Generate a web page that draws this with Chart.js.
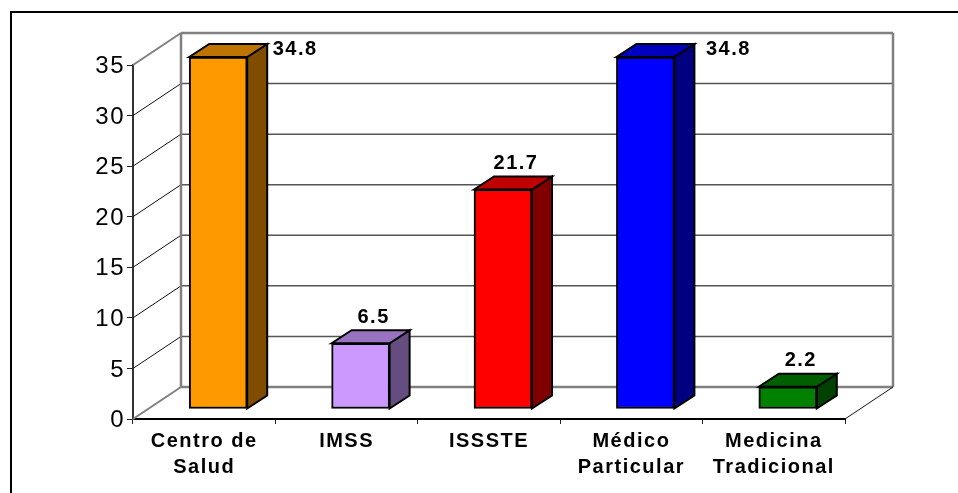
<!DOCTYPE html>
<html>
<head>
<meta charset="utf-8">
<title>Chart</title>
<script src="https://cdn.jsdelivr.net/npm/chart.js@4/dist/chart.umd.min.js"></script>
<style>
html, body { margin: 0; padding: 0; background: #fff; overflow: hidden; }
#frame { position: absolute; left: 10px; top: 11px; width: 1100px; height: 700px; border: 2px solid #000; }
#c { position: absolute; left: 0; top: 0; }
</style>
</head>
<body>
<div id="frame"></div>
<canvas id="c" width="958" height="493"></canvas>
<script>
var categories = [["Centro de", "Salud"], "IMSS", "ISSSTE", ["Médico", "Particular"], ["Medicina", "Tradicional"]];
var values = [34.8, 6.5, 21.7, 34.8, 2.2];
var frontColors = ["#FF9900", "#CC99FF", "#FF0000", "#0000FF", "#008000"];
var topColors = ["#BF7300", "#9973BF", "#BF0000", "#0000BF", "#006000"];
var sideColors = ["#804D00", "#664D80", "#800000", "#000080", "#004000"];
var yTicks = [0, 5, 10, 15, 20, 25, 30, 35];

// depth of the walls and of the bars
var wallDx = 48, wallDy = 32;
var barDx = 14, barDy = 10;
var faceDx = 20, faceDy = 13;

function line(ctx, x1, y1, x2, y2, color, w) {
    ctx.beginPath();
    ctx.moveTo(x1, y1);
    ctx.lineTo(x2, y2);
    ctx.strokeStyle = color;
    ctx.lineWidth = w;
    ctx.stroke();
}

function poly(ctx, pts, fill) {
    ctx.beginPath();
    ctx.moveTo(pts[0][0], pts[0][1]);
    for (var i = 1; i < pts.length; i++) ctx.lineTo(pts[i][0], pts[i][1]);
    ctx.closePath();
    ctx.fillStyle = fill;
    ctx.fill();
    ctx.strokeStyle = "#000";
    ctx.lineWidth = 2;
    ctx.lineJoin = "miter";
    ctx.stroke();
}

var box3d = {
    id: "box3d",
    beforeDraw: function (chart) {
        chart.ctx.letterSpacing = "1.5px";
    },
    beforeDatasetsDraw: function (chart) {
        var ctx = chart.ctx, a = chart.chartArea, y = chart.scales.y;
        var y0 = y.getPixelForValue(0), yTop = y.getPixelForValue(35);
        // gridlines, side wall then back wall
        yTicks.forEach(function (t) {
            if (t === 0 || t === 35) return;
            var py = y.getPixelForValue(t);
            line(ctx, a.left, py, a.left + wallDx, py - wallDy, "#111", 1);
            line(ctx, a.left + wallDx, py - wallDy, a.right + wallDx, py - wallDy, "#555", 1.5);
        });
        line(ctx, a.left, yTop, a.left + wallDx, yTop - wallDy, "#808080", 2);
        line(ctx, a.left, y0, a.left + wallDx, y0 - wallDy, "#808080", 2);
        line(ctx, a.left + wallDx, yTop - wallDy, a.right + wallDx, yTop - wallDy, "#808080", 2.5);
        line(ctx, a.left + wallDx, y0 - wallDy, a.right + wallDx, y0 - wallDy, "#808080", 2.5);
        line(ctx, a.left + wallDx, yTop - wallDy, a.left + wallDx, y0 - wallDy, "#808080", 2.5);
        line(ctx, a.right + wallDx, yTop - wallDy, a.right + wallDx, y0 - wallDy, "#808080", 2.5);
        line(ctx, a.right, y0, a.right + wallDx, y0 - wallDy, "#111", 1);

        // top and side of each bar, the front comes from the dataset
        chart.getDatasetMeta(0).data.forEach(function (bar, i) {
            var r = bar.x + bar.width / 2 + barDx, l = bar.x - bar.width / 2 + barDx;
            var t = bar.y - barDy, b = bar.base - barDy;
            poly(ctx, [[r, t], [r + faceDx, t - faceDy], [r + faceDx, b - faceDy], [r, b]], sideColors[i]);
            poly(ctx, [[l, t], [l + faceDx, t - faceDy], [r + faceDx, t - faceDy], [r, t]], topColors[i]);
        });
        ctx.save();
        ctx.translate(barDx, -barDy);
    },
    afterDatasetsDraw: function (chart) {
        var ctx = chart.ctx;
        ctx.restore();
        ctx.save();
        ctx.font = "bold 20px 'Liberation Sans', Arial, sans-serif";
        ctx.fillStyle = "#000";
        ctx.textAlign = "center";
        ctx.textBaseline = "middle";
        chart.getDatasetMeta(0).data.forEach(function (bar, i) {
            var txt = values[i].toFixed(1);
            if (values[i] > 34) {
                // no room above the tallest bars, goes next to them
                ctx.fillText(txt, bar.x + (i === 3 ? 97 : 91), bar.y - 18);
            } else {
                ctx.fillText(txt, bar.x + barDx + 13, bar.y - barDy - 26);
            }
        });
        ctx.restore();
    }
};

new Chart(document.getElementById("c"), {
    type: "bar",
    data: {
        labels: categories,
        datasets: [{
            data: values,
            backgroundColor: frontColors,
            borderColor: "#000",
            borderWidth: 2,
            borderSkipped: false,
            barThickness: 58,
            clip: false
        }]
    },
    plugins: [box3d],
    options: {
        responsive: false,
        animation: false,
        events: [],
        layout: { padding: { top: 65, right: 113, left: 0, bottom: 0 } },
        plugins: { legend: { display: false }, tooltip: { enabled: false } },
        scales: {
            x: {
                offset: true,
                afterFit: function (s) { s.height = 74; },
                grid: { display: true, drawOnChartArea: false, color: "#222", tickLength: 5, offset: true },
                border: { color: "#000", width: 2 },
                ticks: {
                    color: "#000",
                    maxRotation: 0,
                    autoSkip: false,
                    padding: 4,
                    font: { family: "'Liberation Sans', Arial, sans-serif", size: 20, weight: "bold", lineHeight: 1.33 }
                }
            },
            y: {
                min: 0,
                max: 35,
                afterFit: function (s) { s.width = 133; },
                afterBuildTicks: function (s) { s.ticks = yTicks.map(function (v) { return { value: v }; }); },
                grid: { display: true, drawOnChartArea: false, color: "#222", tickLength: 6 },
                border: { color: "#333", width: 2 },
                ticks: {
                    color: "#000",
                    padding: 2,
                    labelOffset: 1.5,
                    font: { family: "'Liberation Sans', Arial, sans-serif", size: 24 }
                }
            }
        }
    }
});
</script>
</body>
</html>
